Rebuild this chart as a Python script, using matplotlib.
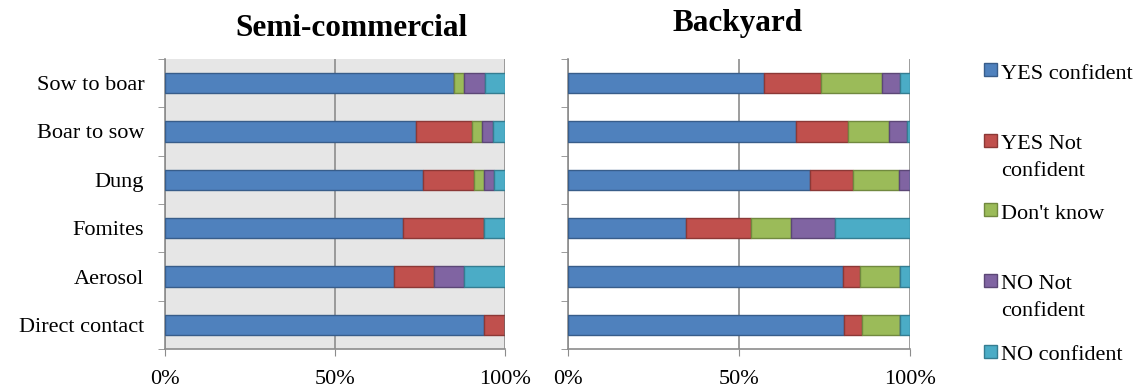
import matplotlib
matplotlib.use('Agg')
import matplotlib.pyplot as plt
from matplotlib.patches import Rectangle
import numpy as np

plt.rcParams['font.family'] = ['Liberation Serif', 'DejaVu Serif']

# Categories from top to bottom as shown in the chart
routes = ['Sow to boar', 'Boar to sow', 'Dung', 'Fomites', 'Aerosol', 'Direct contact']
answers = ['YES confident', 'YES Not\nconfident', "Don't know", 'NO Not\nconfident', 'NO confident']

# Percentages per answer (same order as routes)
semi_yes_conf = [85.0, 73.7, 76.0, 70.1, 67.4, 93.9]
semi_yes_not = [0.0, 16.5, 15.0, 23.7, 11.7, 6.1]
semi_dont_know = [3.0, 3.0, 2.9, 0.0, 0.0, 0.0]
semi_no_not = [6.0, 3.4, 3.0, 0.0, 8.8, 0.0]
semi_no_conf = [6.0, 3.4, 3.1, 6.2, 12.1, 0.0]

back_yes_conf = [57.2, 66.8, 70.8, 34.5, 80.4, 80.8]
back_yes_not = [16.8, 15.1, 12.5, 18.9, 4.9, 5.2]
back_dont_know = [17.9, 11.9, 13.5, 11.8, 11.7, 11.2]
back_no_not = [5.1, 5.2, 3.2, 13.0, 0.0, 0.0]
back_no_conf = [3.0, 1.0, 0.0, 21.8, 3.0, 2.8]

colors = ['#4F81BD', '#C0504D', '#9BBB59', '#8064A2', '#4BACC6']
edges = ['#385D8A', '#8C3836', '#71893F', '#5C4776', '#357D91']

fig = plt.figure(figsize=(11.36, 3.87), dpi=100)
W, H = 1136, 387
FS = 16

def add_panel(left, right, series, bg):
    ax = fig.add_axes([left / W, 1 - 349 / H, (right - left) / W, 290 / H])
    y = np.arange(len(routes))
    base = np.zeros(len(routes))
    for vals, c, ec in zip(series, colors, edges):
        ax.barh(y, vals, left=base, height=0.42, color=c, edgecolor=ec, linewidth=1, zorder=3)
        base += np.array(vals)
    ax.set_xlim(0, 100)
    ax.set_ylim(len(routes) - 0.5, -0.5)
    ax.set_facecolor(bg)
    ax.set_xticks([0, 50, 100])
    ax.set_xticklabels(['0%', '50%', '100%'], fontsize=FS)
    ax.set_yticks(y)
    ax.set_yticks(np.arange(-0.5, len(routes)), minor=True)
    ax.tick_params(axis='y', which='major', length=0, pad=15)
    ax.tick_params(axis='y', which='minor', length=5, color='#8C8C8C')
    ax.tick_params(axis='x', length=5, color='#8C8C8C', pad=10)
    ax.grid(axis='x', color='#8C8C8C', linewidth=1.2, zorder=1)
    for s in ['top', 'right']:
        ax.spines[s].set_visible(False)
    for s in ['left', 'bottom']:
        ax.spines[s].set_color('#8C8C8C')
        ax.spines[s].set_linewidth(1.2)
    return ax

ax1 = add_panel(165, 505, [semi_yes_conf, semi_yes_not, semi_dont_know, semi_no_not, semi_no_conf], '#E6E6E6')
ax1.set_yticklabels(routes, fontsize=FS)
ax2 = add_panel(568, 910, [back_yes_conf, back_yes_not, back_dont_know, back_no_not, back_no_conf], 'white')
ax2.set_yticklabels([])

fig.text(351 / W, 1 - 29 / H, 'Semi-commercial', ha='center', va='center', fontsize=22.5, fontweight='bold')
fig.text(738 / W, 1 - 24 / H, 'Backyard', ha='center', va='center', fontsize=22.5, fontweight='bold')

# legend drawn by hand to keep the wide spacing of the original
square_top = [63, 134, 203, 274, 345]
text_base = [79, 149, 219, 289, 360]
for lab, st, tb, c, ec in zip(answers, square_top, text_base, colors, edges):
    fig.add_artist(Rectangle((984 / W, 1 - (st + 13) / H), 13 / W, 13 / H,
                             transform=fig.transFigure, facecolor=c, edgecolor=ec, linewidth=1))
    for i, line in enumerate(lab.split('\n')):
        fig.text(1001 / W, 1 - (tb + i * 26.7) / H, line, ha='left', va='baseline', fontsize=FS)

fig.savefig('out.png', dpi=100)
